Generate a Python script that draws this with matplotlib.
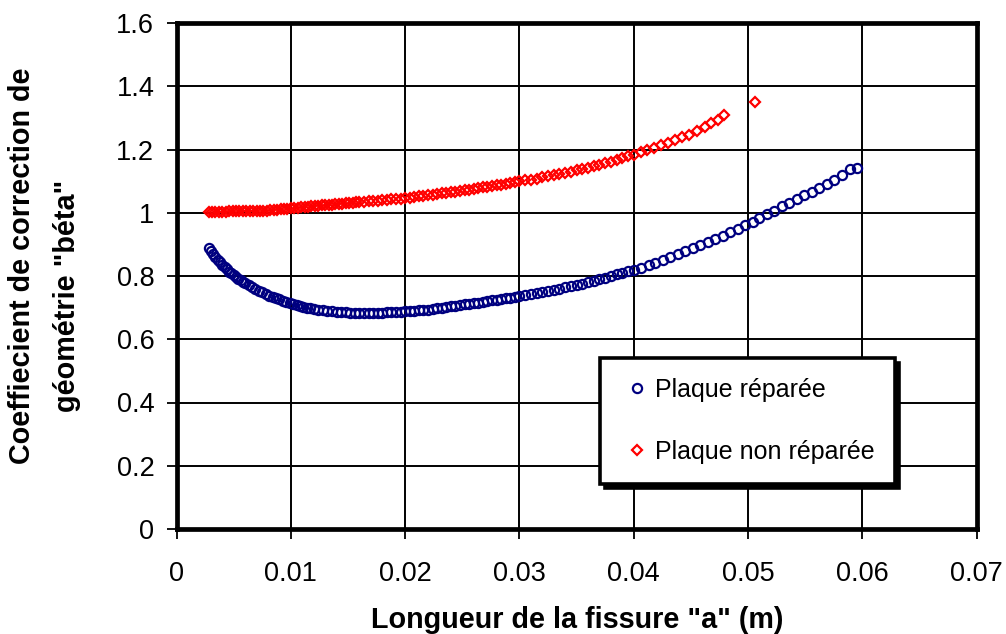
import matplotlib
matplotlib.use("Agg")
import matplotlib.pyplot as plt

plt.rcParams['font.family'] = ['Liberation Sans', 'DejaVu Sans']

# Repaired plate: crack length a (m) and geometry factor beta
a_rep = [0.0028, 0.0030, 0.0032, 0.0034, 0.0036, 0.0038, 0.0040, 0.0042, 0.0044, 0.0046,
         0.0048, 0.0050, 0.0052, 0.0054, 0.0056, 0.0058, 0.0060,
         0.0063, 0.0066, 0.0069, 0.0072, 0.0075, 0.0078, 0.0081, 0.0084, 0.0087, 0.0090,
         0.0093, 0.0096, 0.0099, 0.0102, 0.0105, 0.0108, 0.0111, 0.0114, 0.0117, 0.0120,
         0.0124, 0.0128, 0.0132, 0.0136, 0.0140, 0.0144, 0.0148, 0.0152, 0.0156, 0.0160,
         0.0164, 0.0168, 0.0172, 0.0176, 0.0180, 0.0184, 0.0188, 0.0192, 0.0196, 0.0200,
         0.0204, 0.0208, 0.0212, 0.0216, 0.0220, 0.0224, 0.0228, 0.0232, 0.0236, 0.0240,
         0.0244, 0.0248, 0.0252, 0.0256, 0.0260, 0.0264, 0.0268, 0.0272, 0.0276, 0.0280,
         0.0284, 0.0288, 0.0292, 0.0296, 0.0300,
         0.0305, 0.0310, 0.0315, 0.0320, 0.0325, 0.0330, 0.0335, 0.0340, 0.0345, 0.0350,
         0.0355, 0.0360, 0.0365, 0.0370, 0.0375, 0.0380, 0.0385, 0.0390, 0.0395, 0.0400,
         0.0406, 0.0413, 0.0419, 0.0426, 0.0432, 0.0439, 0.0445, 0.0452, 0.0458, 0.0465,
         0.0471, 0.0478, 0.0484, 0.0491, 0.0497, 0.0504, 0.0510, 0.0517, 0.0523, 0.0530,
         0.0536, 0.0543, 0.0549, 0.0556, 0.0562, 0.0569, 0.0575, 0.0582, 0.0589, 0.0595]
beta_rep = [0.889, 0.879, 0.869, 0.860, 0.851, 0.843, 0.835, 0.828, 0.821, 0.814,
            0.808, 0.802, 0.797, 0.792, 0.787, 0.782, 0.777,
            0.771, 0.765, 0.759, 0.753, 0.748, 0.743, 0.738, 0.734, 0.730, 0.726,
            0.722, 0.718, 0.715, 0.712, 0.709, 0.706, 0.703, 0.700, 0.698, 0.696,
            0.694, 0.692, 0.690, 0.689, 0.687, 0.686, 0.685, 0.684, 0.683, 0.683,
            0.683, 0.683, 0.683, 0.684, 0.684, 0.685, 0.685, 0.686, 0.687, 0.688,
            0.689, 0.690, 0.691, 0.693, 0.694, 0.696, 0.698, 0.700, 0.702, 0.704,
            0.706, 0.708, 0.710, 0.712, 0.714, 0.716, 0.718, 0.720, 0.723, 0.725,
            0.727, 0.729, 0.731, 0.734, 0.736,
            0.739, 0.742, 0.745, 0.749, 0.752, 0.756, 0.760, 0.764, 0.768, 0.772,
            0.776, 0.781, 0.785, 0.790, 0.795, 0.800, 0.805, 0.810, 0.815, 0.819,
            0.825, 0.834, 0.842, 0.851, 0.860, 0.869, 0.878, 0.888, 0.897, 0.907,
            0.917, 0.928, 0.938, 0.949, 0.960, 0.972, 0.983, 0.995, 1.007, 1.020,
            1.031, 1.044, 1.056, 1.067, 1.079, 1.091, 1.103, 1.120, 1.139, 1.142]

# Unrepaired plate
a_unrep = [0.0028, 0.0031, 0.0034, 0.0037, 0.0040, 0.0043, 0.0046, 0.0049, 0.0052, 0.0055,
           0.0058, 0.0061, 0.0064, 0.0067, 0.0070, 0.0073, 0.0076, 0.0079,
           0.0082, 0.0085, 0.0088, 0.0091, 0.0094, 0.0097, 0.0100, 0.0103, 0.0106, 0.0109,
           0.0112, 0.0115, 0.0118, 0.0121, 0.0124, 0.0127, 0.0130, 0.0133, 0.0136, 0.0139,
           0.0142, 0.0145, 0.0148, 0.0151, 0.0154, 0.0157, 0.0160,
           0.0164, 0.0168, 0.0172, 0.0176, 0.0180, 0.0184, 0.0188, 0.0192, 0.0196, 0.0200,
           0.0204, 0.0208, 0.0212, 0.0216, 0.0220, 0.0224, 0.0228, 0.0232, 0.0236, 0.0240,
           0.0244, 0.0248, 0.0252, 0.0256, 0.0260, 0.0264, 0.0268, 0.0272, 0.0276, 0.0280,
           0.0284, 0.0288, 0.0292, 0.0296, 0.0300,
           0.0305, 0.0310, 0.0315, 0.0320, 0.0325, 0.0330, 0.0335, 0.0340, 0.0345, 0.0350,
           0.0355, 0.0360, 0.0365, 0.0370, 0.0375, 0.0380, 0.0385, 0.0390, 0.0395, 0.0400,
           0.0406, 0.0412, 0.0418, 0.0424, 0.0430, 0.0436, 0.0442, 0.0448, 0.0455,
           0.0462, 0.0468, 0.0474, 0.0479, 0.0506]
beta_unrep = [1.003, 1.003, 1.003, 1.003, 1.003, 1.003, 1.004, 1.004, 1.004, 1.004,
              1.004, 1.005, 1.005, 1.005, 1.006, 1.006, 1.007, 1.007,
              1.008, 1.009, 1.010, 1.011, 1.012, 1.013, 1.014, 1.015, 1.016, 1.017,
              1.018, 1.019, 1.020, 1.021, 1.022, 1.023, 1.024, 1.025, 1.026, 1.027,
              1.028, 1.029, 1.030, 1.031, 1.032, 1.033, 1.034,
              1.035, 1.036, 1.037, 1.038, 1.040, 1.041, 1.042, 1.044, 1.045, 1.047,
              1.048, 1.050, 1.052, 1.053, 1.055, 1.057, 1.059, 1.061, 1.063, 1.065,
              1.067, 1.069, 1.071, 1.073, 1.075, 1.077, 1.080, 1.082, 1.084, 1.087,
              1.089, 1.091, 1.094, 1.096, 1.099,
              1.102, 1.105, 1.108, 1.112, 1.115, 1.118, 1.122, 1.126, 1.130, 1.134,
              1.138, 1.142, 1.147, 1.152, 1.157, 1.162, 1.167, 1.172, 1.178, 1.184,
              1.191, 1.198, 1.205, 1.213, 1.221, 1.229, 1.238, 1.247, 1.257,
              1.270, 1.283, 1.294, 1.309, 1.351]

x_ticks = [0, 0.01, 0.02, 0.03, 0.04, 0.05, 0.06, 0.07]
x_tick_labels = ['0', '0.01', '0.02', '0.03', '0.04', '0.05', '0.06', '0.07']
y_ticks = [0, 0.2, 0.4, 0.6, 0.8, 1.0, 1.2, 1.4, 1.6]
y_tick_labels = ['0', '0.2', '0.4', '0.6', '0.8', '1', '1.2', '1.4', '1.6']

series_labels = ['Plaque réparée', 'Plaque non réparée']

W, H = 1006, 634
fig = plt.figure(figsize=(W / 100, H / 100), dpi=100)
ax = fig.add_axes([176.5 / W, (H - 529) / H, (976.6 - 176.5) / W, (529 - 23) / H])

ax.plot(a_rep, beta_rep, linestyle='none', marker='o', ms=6.6, mfc='none',
        mec='#000080', mew=1.6, label=series_labels[0], zorder=3)
ax.plot(a_unrep, beta_unrep, linestyle='none', marker='D', ms=5.4, mfc='none',
        mec='#ff0000', mew=1.6, label=series_labels[1], zorder=3)

ax.set_xlim(0, 0.07)
ax.set_ylim(0, 1.6)
ax.set_xticks(x_ticks)
ax.set_xticklabels(x_tick_labels)
ax.set_yticks(y_ticks)
ax.set_yticklabels(y_tick_labels)

ax.grid(True, color='black', linewidth=1.4)
ax.set_axisbelow(True)
for side in ['left', 'right', 'top', 'bottom']:
    ax.spines[side].set_linewidth(3.4)
    ax.spines[side].set_color('black')

ax.tick_params(axis='both', direction='out', length=7, width=1.3, color='black',
               labelsize=19.5)
ax.tick_params(axis='x', pad=16)
ax.tick_params(axis='y', pad=9)

fig.text(577 / W, (H - 628) / H, 'Longueur de la fissure "a" (m)',
         ha='center', va='baseline', fontsize=20.7, fontweight='bold')
fig.text(22 / W, (H - 266) / H, 'Coeffiecient de correction de',
         ha='center', va='center', rotation=90, fontsize=20.7, fontweight='bold')
fig.text(67 / W, (H - 296) / H, 'géométrie "béta"',
         ha='center', va='center', rotation=90, fontsize=20.7, fontweight='bold')

leg = ax.legend(loc='upper left', bbox_to_anchor=(600 / W, (H - 358) / H),
                bbox_transform=fig.transFigure, borderaxespad=0,
                fontsize=18, frameon=True, fancybox=False, framealpha=1,
                edgecolor='black', facecolor='white',
                borderpad=0.8, labelspacing=1.5, handlelength=1.35,
                handletextpad=0.05, numpoints=1,
                shadow={'ox': 3.5, 'oy': -3.5, 'color': 'black', 'alpha': 1})
leg.get_frame().set_linewidth(2.6)
leg.set_zorder(5)

fig.savefig('out.png', dpi=100)
